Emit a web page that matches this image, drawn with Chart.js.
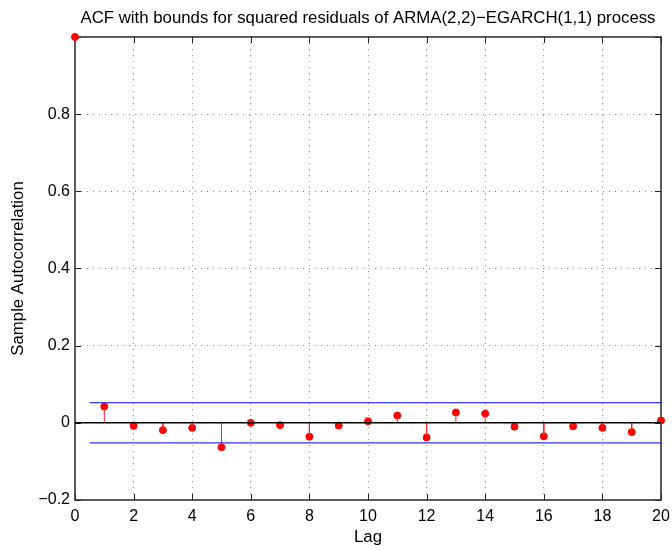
<!DOCTYPE html>
<html>
<head>
<meta charset="utf-8">
<script src="https://cdn.jsdelivr.net/npm/chart.js@4/dist/chart.umd.min.js"></script>
<style>
  html, body { margin: 0; padding: 0; background: #fff; }
  #wrap { width: 672px; height: 550px; }
</style>
</head>
<body>
<div id="wrap"><canvas id="chart"></canvas></div>
<script>
// sample autocorrelation of squared residuals, lags 0..20
const lags = [0, 1, 2, 3, 4, 5, 6, 7, 8, 9, 10, 11, 12, 13, 14, 15, 16, 17, 18, 19, 20];
const acf = [1.0, 0.042, -0.008, -0.019, -0.013, -0.063, 0.000, -0.006, -0.036, -0.007, 0.004,
             0.019, -0.038, 0.027, 0.024, -0.010, -0.035, -0.009, -0.013, -0.024, 0.006];
const upperBound = 0.052;
const lowerBound = -0.052;
const boundStart = 0.5;
const xTicks = [0, 2, 4, 6, 8, 10, 12, 14, 16, 18, 20];
const yTicks = [-0.2, 0, 0.2, 0.4, 0.6, 0.8, 1.0];

const FONT = "'Liberation Sans', Arial, Helvetica, sans-serif";

// stems: (lag,0)->(lag,acf) with gaps between
const stemData = [];
lags.forEach((k, i) => {
    stemData.push({ x: k, y: 0 }, { x: k, y: acf[i] }, { x: k, y: null });
});

const fmt = v => {
    const s = Math.abs(v) < 1e-9 ? "0" : String(Math.round(v * 10) / 10);
    return s.replace("-", "\u2212");
};

// MATLAB style box with inward ticks
const boxPlugin = {
    id: "box",
    beforeDatasetsDraw(chart) {
        const { ctx, chartArea: a, scales } = chart;
        ctx.save();
        ctx.strokeStyle = "#262626";
        ctx.lineWidth = 1;
        ctx.beginPath();
        xTicks.forEach(t => {
            const px = Math.round(scales.x.getPixelForValue(t)) + 0.5;
            ctx.moveTo(px, a.bottom); ctx.lineTo(px, a.bottom - 6);
            ctx.moveTo(px, a.top); ctx.lineTo(px, a.top + 6);
        });
        yTicks.forEach(t => {
            const py = Math.round(scales.y.getPixelForValue(t)) + 0.5;
            ctx.moveTo(a.left, py); ctx.lineTo(a.left + 6, py);
            ctx.moveTo(a.right, py); ctx.lineTo(a.right - 6, py);
        });
        ctx.stroke();
        ctx.lineWidth = 1.5;
        ctx.strokeRect(a.left, a.top, a.right - a.left, a.bottom - a.top);
        ctx.restore();
    }
};

new Chart(document.getElementById("chart"), {
    type: "scatter",
    data: {
        datasets: [
            {
                label: "zero",
                type: "line",
                data: [{ x: 0, y: 0 }, { x: 20, y: 0 }],
                borderColor: "#000",
                borderWidth: 1.5,
                pointRadius: 0
            },
            {
                label: "upper",
                type: "line",
                data: [{ x: boundStart, y: upperBound }, { x: 20, y: upperBound }],
                borderColor: "#0000ff",
                borderWidth: 1,
                pointRadius: 0
            },
            {
                label: "lower",
                type: "line",
                data: [{ x: boundStart, y: lowerBound }, { x: 20, y: lowerBound }],
                borderColor: "#0000ff",
                borderWidth: 1,
                pointRadius: 0
            },
            {
                label: "stems",
                type: "line",
                data: stemData,
                borderColor: "#ff2020",
                borderWidth: 1,
                pointRadius: 0,
                spanGaps: false
            },
            {
                label: "acf",
                data: lags.map((k, i) => ({ x: k, y: acf[i] })),
                backgroundColor: "#ff0000",
                borderColor: "#ff0000",
                pointRadius: 3.5,
                clip: false
            }
        ]
    },
    options: {
        responsive: true,
        maintainAspectRatio: false,
        animation: false,
        layout: { padding: { left: 0, right: 11, top: 0, bottom: 0 } },
        plugins: {
            legend: { display: false },
            tooltip: { enabled: false },
            title: {
                display: true,
                fullSize: false,
                text: "ACF with bounds for squared residuals of ARMA(2,2)\u2212EGARCH(1,1) process",
                color: "#000",
                font: { family: FONT, size: 16.8, weight: "normal" },
                padding: { top: 8, bottom: 8.8 }
            }
        },
        scales: {
            x: {
                type: "linear",
                min: 0,
                max: 20,
                afterBuildTicks: s => { s.ticks = xTicks.map(v => ({ value: v })); },
                afterFit: s => { s.height = 50; s.paddingLeft = 0; s.paddingRight = 0; },
                ticks: {
                    color: "#000",
                    font: { family: FONT, size: 16 },
                    padding: 7,
                    maxRotation: 0,
                    callback: v => fmt(v)
                },
                grid: {
                    color: c => (c.tick.value === 0 || c.tick.value === 20) ? "rgba(0,0,0,0)" : "#8c8c8c",
                    lineWidth: 1,
                    drawTicks: false
                },
                border: { display: false, dash: [1, 5] },
                title: {
                    display: true,
                    text: "Lag",
                    color: "#000",
                    font: { family: FONT, size: 16.8 },
                    padding: { top: 2, bottom: 3 }
                }
            },
            y: {
                type: "linear",
                min: -0.2,
                max: 1.0,
                afterBuildTicks: s => { s.ticks = yTicks.map(v => ({ value: v })); },
                afterFit: s => { s.width = 75; s.paddingTop = 0; s.paddingBottom = 0; },
                ticks: {
                    color: "#000",
                    font: { family: FONT, size: 16 },
                    padding: 5,
                    callback: v => (v > 0.95 ? "" : fmt(v))
                },
                grid: {
                    color: c => (c.tick.value < -0.1 || c.tick.value > 0.9 || Math.abs(c.tick.value) < 1e-9) ? "rgba(0,0,0,0)" : "#8c8c8c",
                    lineWidth: 1,
                    drawTicks: false
                },
                border: { display: false, dash: [1, 5] },
                title: {
                    display: true,
                    text: "Sample Autocorrelation",
                    color: "#000",
                    font: { family: FONT, size: 16.8 },
                    padding: { top: 8, bottom: 4 }
                }
            }
        }
    },
    plugins: [boxPlugin]
});
</script>
</body>
</html>
